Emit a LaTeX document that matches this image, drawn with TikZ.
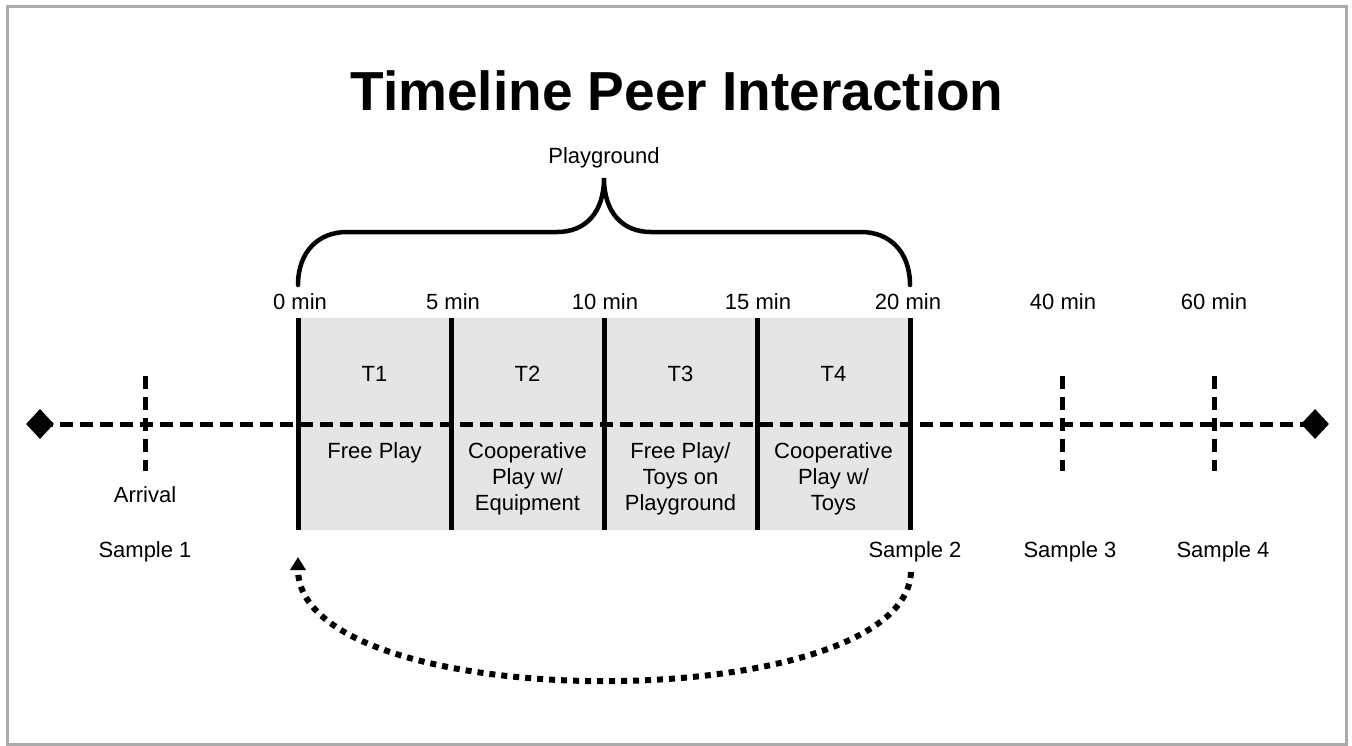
\documentclass[tikz,border=0pt]{standalone}
\usepackage{fontspec}
\setmainfont{Liberation Sans}
\usetikzlibrary{arrows.meta,shapes.geometric}

\tikzset{
  lbl/.style={font=\fontsize{22}{26}\selectfont, inner sep=0pt, anchor=base},
  celltext/.style={font=\fontsize{22}{26}\selectfont, inner sep=0pt, anchor=north, align=center},
  axis/.style={line width=5pt, dash pattern=on 13pt off 7pt},
  tickmark/.style={line width=5pt, dash pattern=on 13pt off 8pt},
  divider/.style={line width=5pt},
  endmark/.style={diamond, fill=black, inner sep=0pt, minimum width=28pt, minimum height=30pt},
  bracket/.style={line width=4.5pt, line cap=round},
  backarrow/.style={line width=6pt, dash pattern=on 6pt off 6pt,
    -{Triangle[width=15pt,length=13pt]}},
}

\begin{document}
\begin{tikzpicture}[x=1pt,y=-1pt]
  % frame
  \useasboundingbox (0,0) rectangle (1352,745);
  \draw[line width=3pt, color=black!33] (7,6) rectangle (1346,744);

  % title
  \node[font=\fontsize{55}{60}\selectfont\bfseries, inner sep=0pt, anchor=base] (title) at (677,110) {Timeline Peer Interaction};

  % shaded playground block
  \fill[black!10] (298,318) rectangle (910,530);

  % main time axis with end markers
  \node[endmark] (dl) at (40,424) {};
  \node[endmark] (dr) at (1315,424) {};
  \draw[axis] (dl.center) -- (dr.center);

  % dashed sampling marks
  \foreach \n/\x in {arr/145, m40/1062, m60/1214} {
    \coordinate (\n top) at (\x,376);
    \coordinate (\n bot) at (\x,471);
    \draw[tickmark] (\n top) -- (\n bot);
  }

  % interval dividers
  \foreach \n/\x in {d0/298, d5/451, d10/604, d15/757, d20/910} {
    \coordinate (\n top) at (\x,318);
    \coordinate (\n bot) at (\x,530);
    \draw[divider] (\n top) -- (\n bot);
  }

  % minute labels
  \node[lbl] (l0)  at (300,309)  {0 min};
  \node[lbl] (l5)  at (453,309)  {5 min};
  \node[lbl] (l10) at (605,309)  {10 min};
  \node[lbl] (l15) at (758,309)  {15 min};
  \node[lbl] (l20) at (908,309)  {20 min};
  \node[lbl] (l40) at (1063,309) {40 min};
  \node[lbl] (l60) at (1214,309) {60 min};

  % interval names
  \node[lbl] (t1) at (374.5,381) {T1};
  \node[lbl] (t2) at (527.5,381) {T2};
  \node[lbl] (t3) at (680.5,381) {T3};
  \node[lbl] (t4) at (833.5,381) {T4};

  % activities
  \node[celltext] (a1) at (374.5,442) {Free Play};
  \node[celltext] (a2) at (527.5,442) {Cooperative\\Play w/\\Equipment};
  \node[celltext] (a3) at (680.5,442) {Free Play/\\Toys on\\Playground};
  \node[celltext] (a4) at (833.5,442) {Cooperative\\Play w/\\Toys};

  % other labels
  \node[lbl] (arrival) at (145,502) {Arrival};
  \node[lbl] (s1) at (145,557)  {Sample 1};
  \node[lbl] (s2) at (915,557)  {Sample 2};
  \node[lbl] (s3) at (1070,557) {Sample 3};
  \node[lbl] (s4) at (1223,557) {Sample 4};
  \node[lbl] (play) at (604,163) {Playground};

  % curly bracket over the playground period
  \coordinate (bl) at (298,285);
  \coordinate (bp) at (604,178);
  \coordinate (br) at (910,285);
  \draw[bracket] (bl) .. controls (298,252) and (318,232) .. (347,232)
    -- (557,232) .. controls (586,232) and (604,212) .. (bp)
    .. controls (604,212) and (622,232) .. (651,232)
    -- (861,232) .. controls (890,232) and (910,252) .. (br);

  % return arrow from sample 2 back to the start
  \coordinate (s2foot) at (911,572);
  \coordinate (back) at (298,557);
  \draw[backarrow] (s2foot) .. controls (905,718) and (298,718) .. (back);
\end{tikzpicture}
\end{document}
